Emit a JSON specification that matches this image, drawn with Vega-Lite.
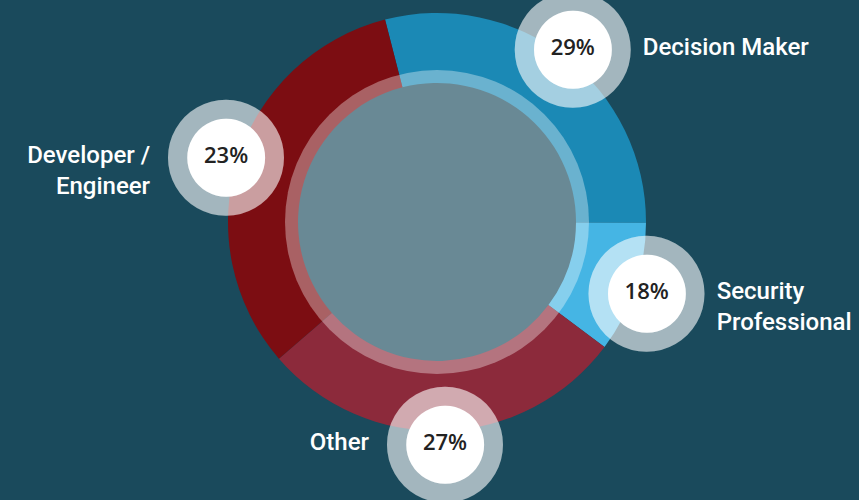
{
  "$schema": "https://vega.github.io/schema/vega-lite/v6.json",
  "autosize": {"type": "none"},
  "width": 844,
  "height": 444,
  "padding": {"left": 15, "top": 0, "right": 0, "bottom": 56},
  "background": "#1a4a5c",
  "view": {"stroke": null},
  "data": {
    "values": [
      {"rank": 1, "role": "Decision Maker", "label": ["Decision Maker"], "percent": 0.29, "share": 29.05},
      {"rank": 2, "role": "Security Professional", "label": ["Security", "Professional"], "percent": 0.18, "share": 10.15},
      {"rank": 3, "role": "Other", "label": ["Other"], "percent": 0.27, "share": 28.45},
      {"rank": 4, "role": "Developer / Engineer", "label": ["Developer /", "Engineer"], "percent": 0.23, "share": 32.35}
    ]
  },
  "encoding": {
    "theta": {"field": "share", "type": "quantitative", "stack": true, "scale": {"range": [-0.2513, 6.0319]}},
    "order": {"field": "rank", "type": "quantitative"}
  },
  "layer": [
    {
      "mark": {"type": "arc", "outerRadius": 209, "innerRadius": 139},
      "encoding": {
        "color": {
          "field": "role", "type": "nominal", "legend": null,
          "scale": {
            "domain": ["Decision Maker", "Security Professional", "Other", "Developer / Engineer"],
            "range": ["#1b89b5", "#45b5e4", "#8c2a3b", "#7c0d12"]
          }
        }
      }
    },
    {
      "data": {"values": [{"ring": "overlay"}]},
      "mark": {"type": "arc", "theta": 0, "theta2": 6.2832, "outerRadius": 152, "innerRadius": 0, "fill": "white", "opacity": 0.35},
      "encoding": {"theta": null, "order": null}
    },
    {
      "mark": {"type": "text", "radius": 221, "dy": -5, "text": "●", "font": "DejaVu Sans", "fontSize": 152, "color": "white", "opacity": 0.6, "align": "center", "baseline": "middle"}
    },
    {
      "mark": {"type": "text", "radius": 221, "dy": -3, "text": "●", "font": "DejaVu Sans", "fontSize": 102, "color": "white", "opacity": 1, "align": "center", "baseline": "middle"}
    },
    {
      "mark": {"type": "text", "radius": 221, "font": "Open Sans", "fontSize": 22, "fontWeight": 600, "color": "#222222", "align": "center", "baseline": "middle"},
      "encoding": {"text": {"field": "percent", "type": "quantitative", "format": ".0%"}}
    },
    {
      "mark": {"type": "text", "radius": 221, "dx": 70, "font": "Roboto", "fontSize": 24, "fontWeight": 500, "color": "white", "align": "left", "baseline": "middle", "lineHeight": 31},
      "encoding": {
        "text": {
          "condition": {"test": "datum.role === 'Decision Maker' || datum.role === 'Security Professional'", "field": "label"},
          "value": ""
        }
      }
    },
    {
      "mark": {"type": "text", "radius": 221, "dx": -76, "font": "Roboto", "fontSize": 24, "fontWeight": 500, "color": "white", "align": "right", "baseline": "middle", "lineHeight": 31},
      "encoding": {
        "text": {
          "condition": {"test": "datum.role === 'Other' || datum.role === 'Developer / Engineer'", "field": "label"},
          "value": ""
        }
      }
    }
  ]
}
